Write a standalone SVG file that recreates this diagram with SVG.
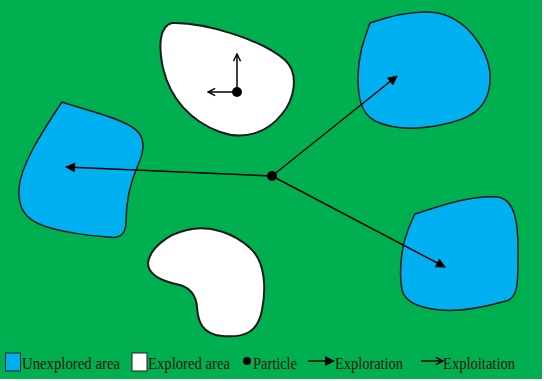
<svg xmlns="http://www.w3.org/2000/svg" width="544" height="381" viewBox="0 0 544 381">
<style>
.blue{fill:#00b0f0;stroke:#1a1a1a;stroke-width:1.5}
.white{fill:#ffffff;stroke:#1a1a1a;stroke-width:2}
.ln{stroke:#000;stroke-width:1.5;fill:none}
.lbl{font-family:"Liberation Serif","Times New Roman",serif;font-size:17px;fill:#111}
</style>
<defs>
<marker id="fa" viewBox="0 0 10 10" refX="9" refY="5" markerWidth="13" markerHeight="10" markerUnits="userSpaceOnUse" orient="auto">
<path d="M0,0 L10,5 L0,10 Z" fill="#000"/>
</marker>
<marker id="oa" viewBox="0 0 10 10" refX="9" refY="5" markerWidth="9" markerHeight="9" markerUnits="userSpaceOnUse" orient="auto">
<path d="M1,1 L9,5 L1,9" fill="none" stroke="#000" stroke-width="1.6"/>
</marker>
</defs>
<rect x="0" y="0" width="544" height="381" fill="#ffffff"/>
<rect x="0" y="0" width="542" height="379" fill="#00b050"/>

<g id="explored-top">
<path class="white" d="M172,23 C205,22 262,40 285,60 C300,74 294,100 282,114 C268,132 245,141 220,132 C190,121 170,98 163,68 C158,44 160,26 172,23 Z"/>
</g>
<g id="explored-bottom">
<path class="white" d="M187,230 C210,224 235,234 250,248 C266,262 266,290 262,310 C258,332 245,338 222,336 C202,334 198,322 197,307 C196,295 190,288 180,285 C165,282 148,276 148,263 C150,248 168,234 187,230 Z"/>
</g>
<g id="unexplored-left">
<path class="blue" d="M62,102 C85,110 115,116 132,127 C147,136 144,152 138,165 C130,183 126,200 126,222 C126,234 120,239 108,237 C90,236 62,232 44,226 C22,218 18,205 19,188 C21,165 40,135 62,102 Z"/>
</g>
<g id="unexplored-top-right">
<path class="blue" d="M370,23 C390,16 415,9 438,13 C470,20 492,55 490,82 C488,110 468,120 440,125 C415,130 392,129 375,121 C360,113 358,95 358,78 C358,55 364,40 370,23 Z"/>
</g>
<g id="unexplored-bottom-right">
<path class="blue" d="M415,214 C440,206 470,195 498,197 C515,200 518,222 518,250 C518,280 519,298 506,301 C485,307 460,312 440,310 C418,308 405,302 402,290 C399,275 401,250 406,236 C409,226 412,220 415,214 Z"/>
</g>

<g id="connectors">
<line class="ln" x1="272" y1="176" x2="66" y2="167" marker-end="url(#fa)"/>
<line class="ln" x1="272" y1="176" x2="397" y2="76" marker-end="url(#fa)"/>
<line class="ln" x1="272" y1="176" x2="445" y2="267" marker-end="url(#fa)"/>
<line class="ln" x1="237" y1="92" x2="237" y2="54" marker-end="url(#oa)"/>
<line class="ln" x1="237" y1="92" x2="208" y2="92" marker-end="url(#oa)"/>
</g>

<g id="particles">
<circle cx="272" cy="176" r="5" fill="#000"/>
<circle cx="237" cy="92" r="5" fill="#000"/>
</g>

<g id="legend">
<rect x="5.5" y="353" width="15" height="18" fill="#00b0f0" stroke="#222" stroke-width="1"/>
<text class="lbl" x="22" y="369" textLength="98" lengthAdjust="spacingAndGlyphs">Unexplored area</text>
<rect x="132" y="353" width="15" height="18" fill="#ffffff" stroke="#222" stroke-width="1"/>
<text class="lbl" x="148" y="369" textLength="82" lengthAdjust="spacingAndGlyphs">Explored area</text>
<circle cx="247" cy="361" r="4" fill="#000"/>
<text class="lbl" x="253" y="369" textLength="44" lengthAdjust="spacingAndGlyphs">Particle</text>
<line x1="308" y1="361" x2="334" y2="361" stroke="#000" stroke-width="1.5" marker-end="url(#fa)"/>
<text class="lbl" x="335" y="369" textLength="68" lengthAdjust="spacingAndGlyphs">Exploration</text>
<line x1="421" y1="361" x2="443" y2="361" stroke="#000" stroke-width="1.5" marker-end="url(#oa)"/>
<text class="lbl" x="443" y="369" textLength="72" lengthAdjust="spacingAndGlyphs">Exploitation</text>
</g>
</svg>
